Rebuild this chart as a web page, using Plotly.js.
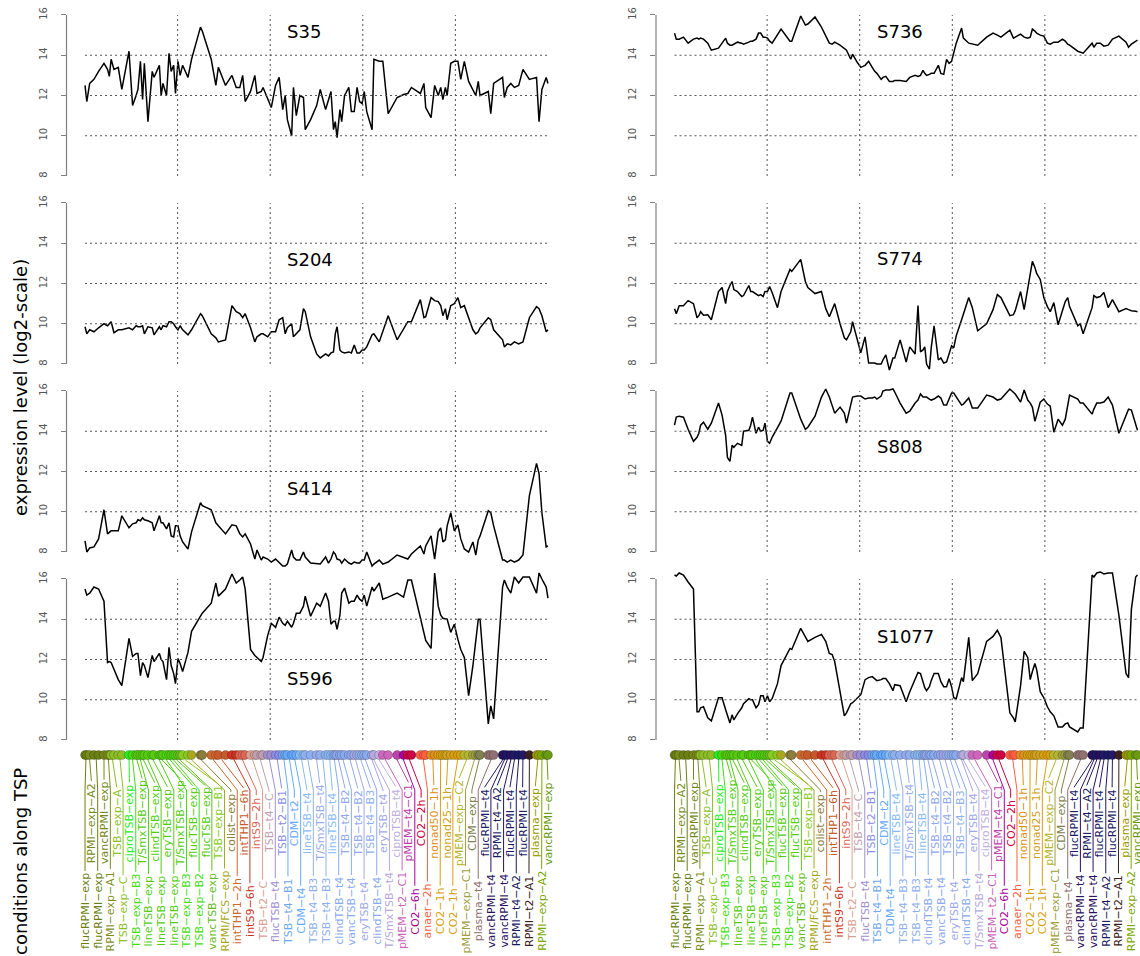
<!DOCTYPE html>
<html>
<head>
<meta charset="utf-8">
<script src="https://cdn.plot.ly/plotly-3.0.1.min.js"></script>
<style>
  html, body { margin: 0; padding: 0; background: #ffffff; }
  #chart { width: 1140px; height: 956px; }
</style>
</head>
<body>
<div id="chart"></div>
<script>
// ---- data -------------------------------------------------------------
// cumulative distance along the TSP path of the conditions, one entry per sample
const tspDist = [0,5,13,25,38,53,63,68,73,81,93,103,123,133,143,148,155,161,166,176,
  188,193,208,213,218,228,235,241,248,253,260,266,273,288,298,323,328,353,366,373,
  393,411,423,433,441,448,463,475,481,493,498,511,521,533,543,553,560,566,578,583,
  591,601,611,616,631,648,658,673,681,688,695,700,705,713,718,726,738,745,753,761,
  768,775,781,788,803,808,823,833,848,873,891,903,913,938,948,953,968,978,988,995,
  1001,1008,1013,1023,1033,1043,1051,1061,1073,1085,1093,1100,1105,1128,1135,1143,1168,1173,1181,1191,
  1201,1213,1225,1243,1263,1270,1278,1290,1295];

// conditions visited along the path (each run of consecutive samples)
const condLabels = ['flucRPMI−exp','RPMI−exp−A2','flucRPMI−exp','vancRPMI−exp','RPMI−exp−A1','TSB−exp−A','TSB−exp−C','ciproTSB−exp','TSB−exp−B3','T/SmxTSB−exp',
  'lineTSB−exp','clindTSB−exp','lineTSB−exp','eryTSB−exp','lineTSB−exp','T/SmxTSB−exp','TSB−exp−B3','flucTSB−exp','TSB−exp−B2','flucTSB−exp',
  'vancTSB−exp','TSB−exp−B1','RPMI/FCS−exp','colist−exp','intTHP1−2h','intTHP1−6h','intS9−6h','intS9−2h','TSB−t2−C','TSB−t4−C',
  'flucTSB−t4','TSB−t2−B1','TSB−t4−B1','CDM−t2','CDM−t4','lineTSB−t4','TSB−t4−B3','T/SmxTSB−t4','TSB−t4−B3','lineTSB−t4',
  'clindTSB−t4','TSB−t4−B2','vancTSB−t4','TSB−t4−B2','eryTSB−t4','TSB−t4−B3','clindTSB−t4','eryTSB−t4','T/SmxTSB−t4','ciproTSB−t4',
  'pMEM−t2−C1','pMEM−t4−C1','CO2−6h','CO2−2h','anaer−2h','nonad50−1h','CO2−1h','nonad25−1h','CO2−1h','pMEM−exp−C2',
  'pMEM−exp−C1','CDM−exp','plasma−t4','flucRPMI−t4','vancRPMI−t4','RPMI−t4−A2','vancRPMI−t4','flucRPMI−t4','RPMI−t4−A2','flucRPMI−t4',
  'RPMI−t2−A1','plasma−exp','RPMI−exp−A2','vancRPMI−exp'];

// number of samples in each run
const condSize = [2,1,2,1,2,2,2,1,1,2, 1,2,1,2,1,2,1,2,1,2, 1,2,1,2,2,2,2,3,2,3,
  2,2,2,2,2,2,2,1,2,2, 2,2,2,2,2,2,2,1,1,1, 2,1,1,2,3,2,3,3,3,2,
  2,2,3,1,1,1,1,1,1,1, 1,2,1,2];

const condColors = ['#6b7f12','#7a8c1c','#6b7f12','#74891a','#7f8f1f','#8cbf26','#8cbf26','#22ee22','#44dd11','#55cc11',
  '#55cc11','#55cc11','#55cc11','#55cc11','#55cc11','#55cc11','#44dd11','#55cc11','#44dd11','#55cc11',
  '#66bb22','#88cc22','#a8a820','#8b7d3a','#cd6a30','#c75a2a','#cc3322','#dd6655','#d9a090','#c0a0b0',
  '#9f8fd0','#8c8ce6','#6fa8f0','#66aaff','#66aaff','#88bbf5','#8fb0ee','#99aaee','#8fb0ee','#88bbf5',
  '#8aaaf0','#90a8ee','#8aaaf0','#90a8ee','#a0a8ea','#8fb0ee','#8aaaf0','#a0a8ea','#b8a8dc','#c0b0e0',
  '#cc66bb','#bb44aa','#aa0099','#cc0044','#ff6040','#e09020','#d9a010','#d0a020','#d9a010','#b5b530',
  '#a0a040','#808050','#907070','#221a66','#2a1060','#1a1a60','#2a1060','#221a66','#1a1a60','#221a66',
  '#3a2020','#999900','#7aa800','#6a9a10'];

// expression levels (log2) per gene, in path order
const S35 = [12.5,11.7,12.6,12.8,13.2,13.6,13.3,12.95,13.8,13.3, 13.4,12.3,14.2,11.5,12.0,12.3,13.7,11.8,13.6,10.7,
  13.2,12.9,13.5,12.0,12.6,12.0,14.1,13.2,13.5,12.1, 13.7,13.0,13.5,12.9,13.8,15.4,15.2,13.8,12.5,13.4,
  12.5,13.0,12.4,12.4,13.0,11.7,12.2,13.0,12.1,12.2, 12.4,11.8,11.4,12.5,12.9,11.3,12.0,10.8,10.0,12.4,
  11.0,12.0,11.9,10.3,10.8,11.5,12.3,11.3,11.8,12.2, 10.3,10.7,9.9,11.3,10.7,12.0,12.4,11.2,11.2,12.4,
  11.7,11.6,12.2,11.2,10.3,13.8,13.7,13.7,11.1,11.9, 12.05,12.1,12.4,12.1,12.6,11.4,10.9,12.5,12.0,12.4,
  11.8,12.4,12.0,13.6,13.7,13.7,12.8,13.7,12.7,12.3, 12.0,12.7,12.0,12.2,11.1,12.6,12.9,11.9,12.4,12.6,
  12.4,12.5,13.3,12.8,12.9,10.7,12.3,12.9,12.6];
const S204 = [9.85,9.5,9.7,9.6,9.8,10.0,9.9,10.0,10.1,9.55, 9.7,9.7,9.8,9.7,9.9,9.85,9.85,9.9,9.5,9.85,
  9.8,9.45,9.85,9.7,9.9,9.85,10.1,10.1,10.0,9.85, 9.7,9.9,9.7,9.45,9.7,10.5,10.4,9.5,9.3,9.1,
  9.2,10.9,10.6,10.5,10.3,10.5,9.8,9.1,9.35,9.5, 9.5,9.35,9.6,9.6,10.2,10.3,9.5,9.8,10.0,9.35,
  9.5,9.7,10.75,10.6,9.35,8.5,8.3,8.5,8.4,8.55, 8.6,9.5,9.85,8.7,8.6,8.55,8.6,8.55,8.95,8.55,
  8.55,8.7,8.7,8.85,9.45,9.5,9.1,9.6,10.4,9.2, 9.7,10.1,10.1,11.2,10.3,10.35,11.3,11.15,11.1,10.9,
  10.4,10.75,10.2,10.9,11.0,11.3,10.8,10.9,10.3,9.7, 9.5,9.6,9.8,10.3,10.2,9.7,9.2,8.85,9.0,8.95,
  9.1,9.0,9.1,10.3,10.85,10.75,10.4,9.6,9.7];
const S414 = [8.55,8.0,8.2,8.25,8.65,10.1,8.9,9.0,9.05,9.05, 9.05,9.8,9.2,9.4,9.45,9.6,9.55,9.7,9.6,9.55,
  9.45,9.05,9.8,9.45,9.45,9.15,9.45,8.8,8.75,9.3, 9.3,8.8,8.5,8.15,9.0,10.45,10.3,10.1,9.45,9.3,
  8.9,9.35,9.3,8.9,8.75,8.9,8.4,7.65,8.1,7.6, 7.75,7.65,7.5,7.65,7.45,7.3,7.3,7.4,8.1,7.75,
  7.6,7.6,8.0,7.75,7.45,7.4,7.4,7.75,7.45,7.65, 8.0,7.9,7.65,7.6,7.45,7.65,7.45,7.4,7.5,7.45,
  7.45,7.6,7.6,8.0,7.3,7.4,7.6,7.4,7.5,7.85, 7.75,7.65,7.9,8.3,7.9,8.3,8.8,7.65,9.0,9.2,
  8.5,8.6,9.3,9.95,9.05,9.35,8.65,8.15,8.0,8.5, 7.85,8.6,8.8,10.05,9.95,9.3,7.6,7.6,7.5,7.6,
  7.5,7.6,7.85,10.8,12.4,11.9,9.95,8.25,8.3];
const S596 = [15.5,15.2,15.3,15.6,15.5,14.9,11.85,11.9,11.85,11.5, 11.0,10.7,13.05,12.15,12.3,12.3,11.2,11.85,11.7,11.1,
  12.2,11.9,12.3,12.0,11.9,11.0,12.6,11.7,11.3,10.8, 12.05,11.8,11.4,12.35,13.4,14.15,14.3,14.8,15.8,15.15,
  15.5,16.25,15.8,15.95,16.1,15.5,12.5,12.2,12.1,11.9, 12.1,13.2,13.8,13.6,14.1,13.8,13.7,13.9,13.6,13.8,
  14.3,14.3,14.65,15.15,14.15,14.8,14.65,15.3,14.9,13.75, 13.9,13.9,13.5,14.2,15.3,15.55,14.8,14.9,14.9,15.2,
  15.0,14.9,15.2,14.65,15.6,15.4,15.8,15.0,15.1,15.3, 15.1,15.95,15.95,14.0,13.2,12.95,12.55,16.3,14.65,14.2,
  14.05,14.0,14.0,13.35,13.75,13.0,12.5,12.1,10.2,11.7, 13.0,14.0,14.0,8.8,9.7,9.05,15.6,15.95,15.6,15.3,
  16.1,15.8,16.1,16.1,15.3,16.3,16.0,15.6,15.05];
const S736 = [15.1,14.8,14.8,14.9,14.6,14.8,14.85,14.8,14.85,14.8, 14.6,14.25,14.35,14.6,14.85,14.6,14.5,14.5,14.55,14.65,
  14.6,14.55,14.65,14.7,14.7,14.8,15.1,15.1,14.9,14.9, 14.85,14.7,14.6,15.05,15.3,14.7,14.7,15.95,15.5,15.55,
  15.9,15.4,15.0,14.6,14.55,14.65,14.5,14.3,14.25,13.8, 14.05,13.65,13.4,13.5,13.7,13.4,13.2,13.1,12.8,12.9,
  12.95,12.7,12.7,12.75,12.75,12.7,12.9,13.0,12.95,13.0, 13.25,13.1,13.0,13.05,13.1,13.1,13.5,13.1,13.05,13.8,
  13.6,13.7,14.1,14.6,15.35,14.85,14.6,14.55,14.5,14.9, 15.1,15.0,14.9,15.25,14.85,14.9,15.05,14.9,14.85,14.9,
  15.3,15.2,15.1,15.0,14.95,14.6,14.55,14.65,14.65,14.8, 14.7,14.55,14.5,14.2,14.15,14.1,14.6,14.4,14.6,14.6,
  14.45,14.5,14.8,14.95,14.65,14.4,14.55,14.7,14.75];
const S774 = [10.75,10.5,10.9,10.9,11.15,11.0,10.3,10.4,10.6,10.42, 10.45,10.2,11.6,11.8,11.0,11.6,11.9,12.1,11.7,11.6,
  11.35,11.4,11.9,11.6,11.6,11.5,11.4,11.45,11.35,11.6, 11.6,11.85,11.55,10.8,11.6,12.7,12.6,13.2,12.1,11.8,
  11.5,11.6,10.75,10.35,10.7,11.0,10.0,9.3,9.2,9.6, 10.1,9.3,8.55,9.35,8.05,8.05,8.05,8.0,8.0,8.2,
  8.45,7.7,8.3,8.3,9.2,8.1,8.85,8.5,10.9,8.6, 8.7,8.85,8.0,7.75,8.8,9.9,8.2,8.3,8.05,8.1,
  8.5,8.9,8.8,9.4,10.2,10.5,11.3,10.8,9.65,10.0, 10.7,11.45,11.3,10.4,10.45,10.65,11.6,10.7,11.7,12.4,
  13.1,12.8,12.5,12.2,11.3,10.85,10.6,11.05,9.95,10.65, 11.1,11.3,10.85,9.9,10.0,9.5,10.8,11.4,11.3,11.35,
  11.55,10.8,11.2,10.6,10.75,10.7,10.65,10.62,10.6];
const S808 = [14.3,14.7,14.75,14.7,14.1,13.5,13.7,13.9,14.3,14.45, 14.1,14.4,15.4,14.8,13.8,12.7,12.5,13.3,13.2,13.4,
  13.3,14.0,14.05,14.3,14.7,13.9,14.2,14.0,14.05,14.4, 13.5,13.4,13.7,14.15,14.5,15.9,15.9,14.6,14.1,14.2,
  14.75,15.7,16.1,15.7,15.25,14.9,15.2,14.9,14.4,15.45, 15.7,15.75,15.75,15.6,15.65,15.65,15.7,15.6,15.75,16.0,
  16.05,16.05,16.1,15.95,15.4,14.9,15.0,15.4,15.55,15.85, 15.7,15.7,15.7,15.6,15.55,15.6,15.75,15.65,15.3,15.3,
  15.6,15.9,15.9,15.7,15.3,15.35,15.65,15.15,15.15,15.8, 15.7,15.55,15.6,16.1,15.95,15.85,15.45,16.05,15.55,15.4,
  15.2,14.5,14.8,15.45,15.6,15.35,15.25,13.95,14.6,14.3, 14.6,15.4,15.8,15.6,15.4,15.4,14.85,15.1,15.4,15.4,
  15.45,15.7,15.3,13.9,14.75,15.1,15.05,14.4,14.05];
const S1077 = [16.2,16.15,16.3,16.2,15.85,15.5,9.4,9.4,9.6,9.65, 9.1,8.95,10.1,10.1,9.5,9.2,8.85,9.25,9.0,9.3,
  9.6,9.8,10.05,10.0,10.0,9.6,9.75,10.2,10.2,9.9, 10.2,9.9,10.05,10.8,11.7,12.55,12.5,13.55,13.1,12.9,
  13.1,13.25,12.9,12.3,12.25,11.9,10.4,9.2,9.35,9.8, 9.85,10.1,10.25,11.0,11.1,11.15,11.05,10.95,11.0,11.05,
  11.05,10.8,10.45,10.75,10.7,9.9,10.4,11.0,11.35,11.3, 10.85,10.6,10.45,10.65,10.95,11.3,11.3,10.9,10.65,10.65,
  11.05,10.65,10.1,10.05,11.1,10.9,13.1,10.95,11.3,12.9, 13.15,13.45,13.1,9.35,9.1,8.9,10.7,12.4,12.1,11.0,
  11.4,11.8,11.5,10.4,10.1,9.65,9.4,9.2,8.65,8.65, 8.8,8.85,8.65,8.4,8.6,8.6,16.2,16.1,16.3,16.35,
  16.25,16.3,16.3,14.2,11.3,11.1,14.5,16.1,16.2];

const geneNames = ['S35','S204','S414','S596','S736','S774','S808','S1077'];
const geneSeries = [S35, S204, S414, S596, S736, S774, S808, S1077];
const yTicks = [8, 10, 12, 14, 16];
const hGrid = [10, 12, 14];

// ---- layout geometry (pixels on a 1140 x 956 page) -------------------
const W = 1140, H = 956;
const FONT = 'DejaVu Sans';
const LABEL_SIZE = 11;
const colBox = [{l: 66.5, r: 566.5}, {l: 656, r: 1156}];   // plot regions of the two columns
const rowTop16 = [15, 203, 391, 579];                     // pixel row of y = 16 in each row
const pxPerUnit = 20.125;                                 // vertical pixels per log2 unit
const yLo = 7.2, yHi = 16.5;
// gene name placement: x in path units, y in log2 units
const nameX = 563;
const nameY = [15.2, 13.17, 11.16, 11.06, 15.2, 13.24, 13.24, 13.14];
// strip of condition dots and labels (labels are centred on these rows)
const stripTop = 745, dotY = 755, kinkA = 760, kinkB = 790;
const labelMid = [911, 823];   // bottom row, top row

// text length, used to stop each connector just above its label
const measureCtx = document.createElement('canvas').getContext('2d');
measureCtx.font = LABEL_SIZE + 'px "' + FONT + '"';
const textLen = t => measureCtx.measureText(t).width;

const dMin = Math.min(...tspDist), dMax = Math.max(...tspDist), span = dMax - dMin;
const xr0 = dMin - 0.04 * span, xr1 = dMax + 0.04 * span;

function xAxisFor(col) {
  const b = colBox[col];
  const right = Math.min(b.r, W);
  const r1 = xr0 + (right - b.l) / (b.r - b.l) * (xr1 - xr0);
  return { domain: [b.l / W, right / W], range: [xr0, r1] };
}

const layout = {
  width: W, height: H,
  margin: {l: 0, r: 0, t: 0, b: 0},
  paper_bgcolor: '#ffffff', plot_bgcolor: 'rgba(0,0,0,0)',
  showlegend: false,
  font: {family: FONT, color: '#000'},
  shapes: [], annotations: []
};
const traces = [];

geneSeries.forEach((vals, i) => {
  const col = Math.floor(i / 4), row = i % 4;
  const n = i + 1;
  const xa = xAxisFor(col);
  const topPx = rowTop16[row] - (yHi - 16) * pxPerUnit;
  const botPx = rowTop16[row] + (16 - yLo) * pxPerUnit;
  const xk = n === 1 ? 'xaxis' : 'xaxis' + n;
  const yk = n === 1 ? 'yaxis' : 'yaxis' + n;
  const xr = n === 1 ? 'x' : 'x' + n;
  const yr = n === 1 ? 'y' : 'y' + n;
  layout[xk] = {domain: xa.domain, range: xa.range, anchor: yr, visible: false, fixedrange: true};
  layout[yk] = {
    domain: [1 - botPx / H, 1 - topPx / H], range: [yLo, yHi], anchor: xr,
    tickvals: yTicks, ticktext: yTicks.map(String), tickangle: -90,
    ticks: 'outside', ticklen: 5, tickwidth: 1, tickcolor: '#808080',
    tickfont: {family: FONT, size: 10, color: '#555555'},
    ticklabelstandoff: 10,
    showline: false, showgrid: false, zeroline: false, fixedrange: true
  };
  // axis line from the first to the last tick
  layout.shapes.push({type: 'line', xref: xr + ' domain', yref: yr, x0: 0, x1: 0,
    y0: yTicks[0], y1: yTicks[yTicks.length - 1], line: {color: '#808080', width: 1.2}});
  // dotted reference grid
  hGrid.forEach(v => layout.shapes.push({type: 'line', xref: xr, yref: yr,
    x0: dMin, x1: dMax, y0: v, y1: v, line: {color: '#555555', width: 1, dash: '2px,3px'}}));
  [0.2, 0.4, 0.6, 0.8].forEach(f => layout.shapes.push({type: 'line', xref: xr, yref: yr,
    x0: dMin + f * span, x1: dMin + f * span, y0: yTicks[0], y1: yTicks[yTicks.length - 1],
    line: {color: '#555555', width: 1, dash: '2px,3px'}}));
  traces.push({type: 'scatter', mode: 'lines', x: tspDist, y: vals, xaxis: xr, yaxis: yr,
    line: {color: '#000000', width: 1.5}, hoverinfo: 'skip'});
  layout.annotations.push({xref: xr, yref: yr, x: nameX, y: nameY[i], text: geneNames[i],
    showarrow: false, xanchor: 'left', yanchor: 'middle', borderpad: 0,
    font: {family: FONT, size: 18, color: '#000'}});
});

// condition strip under each column
const sampleColors = [];
const condMid = [];
let s = 0;
condSize.forEach((n, i) => {
  const xs = tspDist.slice(s, s + n);
  condMid.push(xs.reduce((a, b) => a + b, 0) / n);
  for (let k = 0; k < n; k++) sampleColors.push(condColors[i]);
  s += n;
});
const labelStep = span / (condLabels.length - 1);

[0, 1].forEach(col => {
  const n = 9 + col;
  const xr = 'x' + n, yr = 'y' + n;
  const xa = xAxisFor(col);
  layout['xaxis' + n] = {domain: xa.domain, range: xa.range, anchor: yr, visible: false, fixedrange: true};
  layout['yaxis' + n] = {domain: [0, 1 - stripTop / H], range: [H, stripTop], anchor: xr, visible: false, fixedrange: true};
  condLabels.forEach((lab, i) => {
    const lx = dMin + i * labelStep;
    const mid = labelMid[i % 2];
    const top = mid - textLen(lab) / 2;
    const kb = Math.min(kinkB, top - 2);
    traces.push({type: 'scatter', mode: 'lines', xaxis: xr, yaxis: yr,
      x: [condMid[i], condMid[i], lx, lx], y: [dotY, kinkA, kb, top - 2],
      line: {color: condColors[i], width: 1}, hoverinfo: 'skip', cliponaxis: false});
    layout.annotations.push({xref: xr, yref: yr, x: lx, y: mid, text: lab, textangle: -90,
      showarrow: false, xanchor: 'center', yanchor: 'middle', borderpad: 0,
      font: {family: FONT, size: LABEL_SIZE, color: condColors[i]}});
  });
  traces.push({type: 'scatter', mode: 'markers', xaxis: xr, yaxis: yr,
    x: tspDist, y: tspDist.map(() => dotY),
    marker: {size: 9, color: sampleColors, line: {color: 'rgba(0,0,0,0.35)', width: 0.6}},
    hoverinfo: 'skip', cliponaxis: false});
});

// outer axis titles
layout.annotations.push({xref: 'paper', yref: 'paper', x: 20 / W, y: 1 - 388 / H,
  text: 'expression level (log2-scale)', textangle: -90, showarrow: false,
  xanchor: 'center', yanchor: 'middle', font: {family: FONT, size: 18, color: '#000'}});
layout.annotations.push({xref: 'paper', yref: 'paper', x: 20 / W, y: 1 - 862 / H,
  text: 'conditions along TSP', textangle: -90, showarrow: false,
  xanchor: 'center', yanchor: 'middle', font: {family: FONT, size: 18, color: '#000'}});

Plotly.newPlot('chart', traces, layout, {staticPlot: true, displayModeBar: false});
</script>
</body>
</html>
